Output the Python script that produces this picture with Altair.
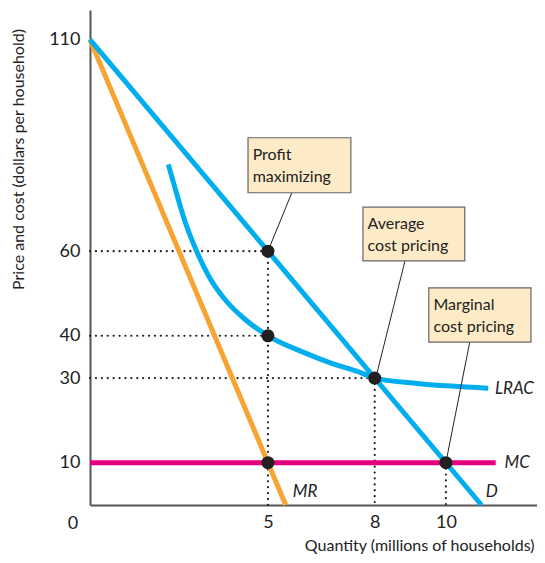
import altair as alt
import pandas as pd

FONT = "Lato"
BLUE = "#00AEEF"
ORANGE = "#F8A432"
MAGENTA = "#E6007E"

# Demand curve D
d_q = [0, 11]
d_p = [110, 0]
# Marginal revenue MR
mr_q = [0, 5.5]
mr_p = [110, 0]
# Marginal cost MC
mc_q = [0, 11.4]
mc_p = [10, 10]
# Long-run average cost LRAC
lrac_q = [2.20, 2.39, 2.67, 3.00, 3.37, 3.84, 4.31, 5.0, 5.85, 6.79, 7.54, 8.0, 9.13, 10.16, 11.19]
lrac_p = [80.5, 74.9, 67.0, 59.9, 53.6, 48.1, 44.2, 40.0, 36.6, 33.5, 31.5, 30.0, 28.8, 28.1, 27.6]

# Highlighted points
pt_q = [5, 5, 8, 10, 5]
pt_p = [60, 40, 30, 10, 10]

y_ticks = [10, 30, 40, 60, 110]
x_ticks = [5, 8, 10]

X_MAX = 12.56
Y_MAX = 117

xs = alt.Scale(domain=[0, X_MAX], nice=False, zero=False)
ys = alt.Scale(domain=[0, Y_MAX], nice=False, zero=False)

def line_layer(q, p, color, interp="linear"):
    df = pd.DataFrame({"q": q, "p": p, "o": range(len(q))})
    return alt.Chart(df).mark_line(color=color, strokeWidth=5, clip=False,
                                   interpolate=interp).encode(
        x=alt.X("q:Q", scale=xs,
                axis=alt.Axis(values=x_ticks, title="Quantity (millions of households)",
                              titleX=444, titleY=40, titleAlign="right", titleBaseline="middle",
                              titleFontWeight="normal", titleFontSize=16, titleFont=FONT,
                              titleColor="#222")),
        y=alt.Y("p:Q", scale=ys,
                axis=alt.Axis(values=y_ticks, title="Price and cost (dollars per household)",
                              titleX=-72, titleY=149, titleAngle=270, titleAlign="center",
                              titleBaseline="middle", titleFontWeight="normal", titleFontSize=16,
                              titleFont=FONT, titleColor="#222")),
        order="o:Q",
    )

# Dotted guide lines
guides = pd.DataFrame({
    "x": [0, 0, 0, 5, 8, 10],
    "y": [60, 40, 30, 60, 30, 10],
    "x2": [5, 5, 8, 5, 8, 10],
    "y2": [60, 40, 30, 0, 0, 0],
})
guide_layer = alt.Chart(guides).mark_rule(
    color="#222", strokeWidth=2.2, strokeDash=[0.1, 5.8], strokeCap="round"
).encode(x=alt.X("x:Q", scale=xs), y=alt.Y("y:Q", scale=ys), x2="x2:Q", y2="y2:Q")

# Leader lines from boxes to points
leaders = pd.DataFrame({
    "x": [5.67, 8.85, 10.67],
    "y": [73.8, 57.7, 38.5],
    "x2": [5, 8.03, 10],
    "y2": [60, 30, 10],
})
leader_layer = alt.Chart(leaders).mark_rule(color="#222", strokeWidth=1).encode(
    x=alt.X("x:Q", scale=xs), y=alt.Y("y:Q", scale=ys), x2="x2:Q", y2="y2:Q"
)

# Annotation boxes
boxes = pd.DataFrame({
    "x": [4.44, 7.67, 9.52],
    "x2": [7.33, 10.53, 12.39],
    "y": [86.8, 70.4, 51.3],
    "y2": [73.8, 57.7, 38.5],
})
box_layer = alt.Chart(boxes).mark_rect(
    fill="#FDEBC7", stroke="#666", strokeWidth=1.2, clip=False
).encode(x=alt.X("x:Q", scale=xs), x2="x2:Q", y=alt.Y("y:Q", scale=ys), y2="y2:Q")

box_text = pd.DataFrame({
    "x": [4.57, 4.57, 7.8, 7.8, 9.65, 9.65],
    "y": [82.8, 77.6, 66.4, 61.2, 47.3, 42.1],
    "t": ["Profit", "maximizing", "Average", "cost pricing", "Marginal", "cost pricing"],
})
box_text_layer = alt.Chart(box_text).mark_text(
    align="left", baseline="middle", font=FONT, fontSize=16, color="#222", clip=False
).encode(x=alt.X("x:Q", scale=xs), y=alt.Y("y:Q", scale=ys), text="t:N")

# Curve labels
curve_lbl = pd.DataFrame({
    "x": [11.38, 11.65, 11.12, 5.7],
    "y": [27.4, 10, 3.1, 3.1],
    "t": ["LRAC", "MC", "D", "MR"],
})
curve_lbl_layer = alt.Chart(curve_lbl).mark_text(
    align="left", baseline="middle", font=FONT, fontSize=17, fontStyle="italic",
    color="#222", clip=False
).encode(x=alt.X("x:Q", scale=xs), y=alt.Y("y:Q", scale=ys), text="t:N")

zero_layer = alt.Chart(pd.DataFrame({"x": [0], "y": [0], "t": ["0"]})).mark_text(
    align="center", baseline="middle", font=FONT, fontSize=18, color="#222",
    dx=-17, dy=19, clip=False
).encode(x=alt.X("x:Q", scale=xs), y=alt.Y("y:Q", scale=ys), text="t:N")

pts = pd.DataFrame({"q": pt_q, "p": pt_p})
pt_layer = alt.Chart(pts).mark_circle(size=170, color="#231F20", opacity=1).encode(
    x=alt.X("q:Q", scale=xs), y=alt.Y("p:Q", scale=ys)
)

chart = alt.layer(
    guide_layer,
    line_layer(mr_q, mr_p, ORANGE),
    line_layer(lrac_q, lrac_p, BLUE, "monotone"),
    line_layer(mc_q, mc_p, MAGENTA),
    line_layer(d_q, d_p, BLUE),
    leader_layer,
    box_layer,
    box_text_layer,
    curve_lbl_layer,
    zero_layer,
    pt_layer,
).properties(
    width=447, height=495,
    padding={"left": 82, "top": 2, "right": 0, "bottom": 50},
    autosize=alt.AutoSizeParams(type="none"),
    background="white",
).configure_view(stroke=None).configure_axis(
    grid=False, ticks=False, tickSize=0, domainColor="#555", domainWidth=2,
    labelFont=FONT, labelFontSize=18, labelColor="#222", labelPadding=10,
).configure_axisX(labelPadding=8)

chart.save("out.html", embed_options={"renderer": "svg", "actions": False})
